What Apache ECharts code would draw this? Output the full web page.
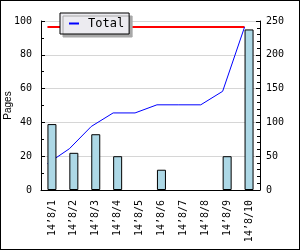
<!DOCTYPE html>
<html>
<head>
<meta charset="utf-8">
<script src="https://cdn.jsdelivr.net/npm/echarts@6/dist/echarts.min.js"></script>
<style>
html,body{margin:0;padding:0;background:#fff;}
#wrap{position:relative;width:300px;height:250px;}
#chart{position:absolute;left:0;top:0;width:300px;height:250px;}
#frame{position:absolute;left:0;top:0;width:300px;height:250px;box-sizing:border-box;border:1px solid #000;pointer-events:none;}
</style>
</head>
<body>
<div id="wrap"><div id="chart"></div><div id="frame"></div></div>
<script>
const categories = ["14’8/1","14’8/2","14’8/3","14’8/4","14’8/5","14’8/6","14’8/7","14’8/8","14’8/9","14’8/10"];
const pages = [39, 22, 33, 20, 0, 12, 0, 0, 20, 95];
const totalLine = [39, 61, 94, 114, 114, 126, 126, 126, 146, 241];
const maxLine = [241, 241, 241, 241, 241, 241, 241, 241, 241, 241];
const leftTicks = {min: 0, max: 100, interval: 20};
const rightTicks = {min: 0, max: 250, interval: 50};

const mono = "DejaVu Sans Mono";
const chart = echarts.init(document.getElementById('chart'), null, {renderer: 'canvas'});
chart.setOption({
  animation: false,
  backgroundColor: '#fff',
  legend: {
    data: ['Total'],
    left: 60, top: 13,
    padding: [4, 3, 4, 9],
    icon: 'rect',
    itemWidth: 10, itemHeight: 2,
    backgroundColor: '#ecebf0',
    borderColor: '#000', borderWidth: 1,
    shadowColor: '#a8a8a8', shadowOffsetX: 3, shadowOffsetY: 3, shadowBlur: 0,
    textStyle: {fontFamily: mono, fontSize: 12, color: '#000', lineHeight: 13, padding: [0, 2, 0, 4]}
  },
  grid: [
    {left: 41, right: 40, top: 21, bottom: 60, containLabel: false, outerBoundsMode: 'none'},
    {left: 36.5, right: 44.5, top: 21, bottom: 60, containLabel: false, outerBoundsMode: 'none'}
  ],
  xAxis: [
    {
      type: 'category', data: categories, gridIndex: 0,
      axisLine: {lineStyle: {color: '#000', width: 1}},
      axisTick: {inside: true, length: 5, lineStyle: {color: '#000'}},
      axisLabel: {rotate: 90, margin: 10, color: '#000', fontFamily: mono, fontSize: 10},
      splitLine: {show: false}
    },
    {
      type: 'category', data: categories, gridIndex: 1, show: false
    }
  ],
  yAxis: [
    {
      type: 'value', gridIndex: 0, position: 'left',
      min: leftTicks.min, max: leftTicks.max, interval: leftTicks.interval,
      name: 'Pages', nameLocation: 'middle', nameGap: 28, nameMoveOverlap: false,
      nameTextStyle: {fontFamily: 'Liberation Sans', fontSize: 10, color: '#000'},
      axisLine: {show: true, lineStyle: {color: '#000'}},
      axisTick: {show: true, inside: true, length: 4, lineStyle: {color: '#000'}},
      minorTick: {show: true, splitNumber: 2, length: 3, lineStyle: {color: '#000'}},
      axisLabel: {margin: 9, color: '#000', fontFamily: mono, fontSize: 10},
      splitLine: {show: true, lineStyle: {color: '#d6d6d6', width: 1}}
    },
    {
      type: 'value', gridIndex: 0, position: 'right',
      min: rightTicks.min, max: rightTicks.max, interval: rightTicks.interval,
      axisLine: {show: true, lineStyle: {color: '#000'}},
      axisTick: {show: true, inside: true, length: 4, lineStyle: {color: '#000'}},
      minorTick: {show: true, splitNumber: 5, length: 3, lineStyle: {color: '#000'}},
      axisLabel: {margin: 6, color: '#000', fontFamily: mono, fontSize: 10},
      splitLine: {show: false}
    },
    {
      type: 'value', gridIndex: 1, show: false,
      min: rightTicks.min, max: rightTicks.max, interval: rightTicks.interval,
      splitLine: {show: false}
    }
  ],
  series: [
    {
      name: 'Max', type: 'line', xAxisIndex: 1, yAxisIndex: 2, data: maxLine,
      showSymbol: false, symbol: 'none', z: 1,
      lineStyle: {color: '#ff0000', width: 2}, itemStyle: {color: '#ff0000'}
    },
    {
      name: 'Total', type: 'line', xAxisIndex: 1, yAxisIndex: 2, data: totalLine,
      showSymbol: false, symbol: 'none', z: 1,
      lineStyle: {color: '#0000ff', width: 1}, itemStyle: {color: '#0000ff'}
    },
    {
      name: 'Pages', type: 'bar', xAxisIndex: 0, yAxisIndex: 0,
      data: pages.map(v => (v === 0 ? '-' : v)),
      barWidth: 9, z: 3,
      itemStyle: {color: '#add8e6', borderColor: '#000', borderWidth: 1}
    }
  ]
});
</script>
</body>
</html>
